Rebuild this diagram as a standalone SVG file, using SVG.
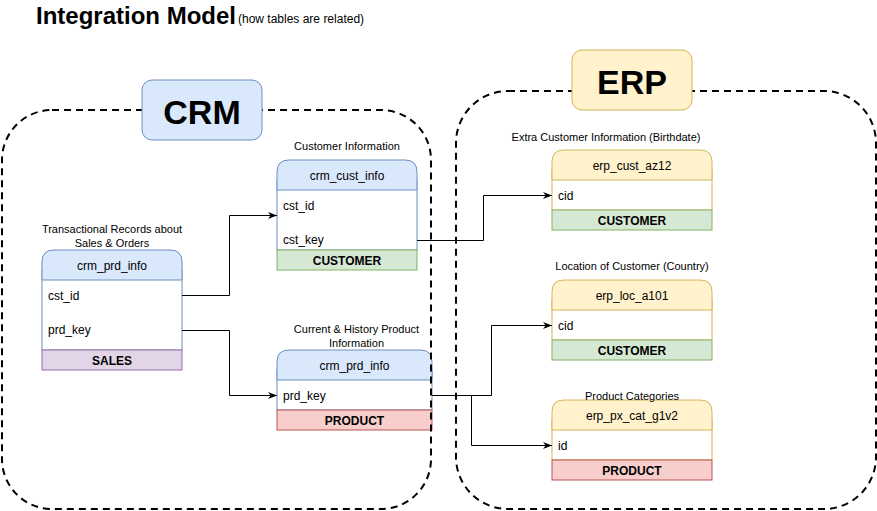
<svg xmlns="http://www.w3.org/2000/svg" width="877" height="511" viewBox="0 0 877 511">
<style>
text{font-family:"Liberation Sans",Arial,sans-serif;fill:#000}
.lbl{font-size:11px;text-anchor:middle}
.hd{font-size:12px;text-anchor:middle}
.fld{font-size:12px}
.ft{font-size:12px;font-weight:bold;text-anchor:middle}
.big{font-size:34px;font-weight:bold;text-anchor:middle}
.cont{fill:none;stroke:#000;stroke-width:2;stroke-dasharray:7 5}
.body{fill:#fff}
.crmH{fill:#dae8fc;stroke:#6c8ebf}
.crmB{fill:#fff;stroke:#6c8ebf}
.erpH{fill:#fff2cc;stroke:#d6b656}
.erpB{fill:#fff;stroke:#d6b656}
.cust{fill:#d5e8d4;stroke:#82b366}
.prod{fill:#f8cecc;stroke:#b85450}
.sales{fill:#e1d5e7;stroke:#9673a6}
.edge{fill:none;stroke:#000;stroke-width:1}
</style>
<defs>
<marker id="arr" viewBox="0 0 10 10" refX="10" refY="5" markerWidth="9" markerHeight="9" markerUnits="userSpaceOnUse" orient="auto">
<path d="M0,1 L10,5 L0,9 L3,5 z" fill="#000"/>
</marker>
</defs>
<rect width="877" height="511" fill="#fff"/>

<g id="title">
<text x="36" y="24" style="font-size:24px;font-weight:bold">Integration Model</text>
<text x="238" y="23" style="font-size:12px">(how tables are related)</text>
</g>

<g id="crm_sales">
<text class="lbl" x="112" y="233">Transactional Records about</text>
<text class="lbl" x="112" y="247">Sales &amp; Orders</text>
<rect class="crmB" x="42" y="270" width="140" height="80"/>
<path class="crmH" d="M42,280 V262 Q42,250 54,250 H170 Q182,250 182,262 V280 Z"/>
<text class="hd" x="112" y="270">crm_prd_info</text>
<text class="fld" x="48" y="300">cst_id</text>
<text class="fld" x="48" y="334">prd_key</text>
<rect class="sales" x="42" y="350" width="140" height="20"/>
<text class="ft" x="112" y="364.5">SALES</text>
</g>

<g id="crm_cust_info">
<text class="lbl" x="347" y="150">Customer Information</text>
<rect class="crmB" x="277" y="180" width="140" height="70"/>
<path class="crmH" d="M277,190 V172 Q277,160 289,160 H405 Q417,160 417,172 V190 Z"/>
<text class="hd" x="347" y="180">crm_cust_info</text>
<text class="fld" x="283" y="210">cst_id</text>
<text class="fld" x="283" y="244">cst_key</text>
<rect class="cust" x="277" y="250" width="140" height="20"/>
<text class="ft" x="347" y="264.5">CUSTOMER</text>
</g>

<g id="crm_prd_info">
<text class="lbl" x="356.5" y="333">Current &amp; History Product</text>
<text class="lbl" x="356.5" y="347">Information</text>
<rect class="crmB" x="277" y="370" width="155" height="40"/>
<path class="crmH" d="M277,380 V362 Q277,350 289,350 H420 Q432,350 432,362 V380 Z"/>
<text class="hd" x="354.5" y="370">crm_prd_info</text>
<text class="fld" x="283" y="399.5">prd_key</text>
<rect class="prod" x="277" y="410" width="155" height="20"/>
<text class="ft" x="354.5" y="424.5">PRODUCT</text>
</g>

<g id="erp_cust_az12">
<text class="lbl" x="606" y="141">Extra Customer Information (Birthdate)</text>
<rect class="erpB" x="552" y="170" width="160" height="40"/>
<path class="erpH" d="M552,180 V162 Q552,150 564,150 H700 Q712,150 712,162 V180 Z"/>
<text class="hd" x="632" y="170">erp_cust_az12</text>
<text class="fld" x="558" y="199.5">cid</text>
<rect class="cust" x="552" y="210" width="160" height="20"/>
<text class="ft" x="632" y="224.5">CUSTOMER</text>
</g>

<g id="erp_loc_a101">
<text class="lbl" x="632" y="270">Location of Customer (Country)</text>
<rect class="erpB" x="552" y="300" width="160" height="40"/>
<path class="erpH" d="M552,310 V292 Q552,280 564,280 H700 Q712,280 712,292 V310 Z"/>
<text class="hd" x="632" y="300">erp_loc_a101</text>
<text class="fld" x="558" y="330">cid</text>
<rect class="cust" x="552" y="340" width="160" height="20"/>
<text class="ft" x="632" y="354.5">CUSTOMER</text>
</g>

<g id="erp_px_cat_g1v2">
<rect class="erpB" x="552" y="420" width="160" height="40"/>
<path class="erpH" d="M552,430 V412 Q552,400 564,400 H700 Q712,400 712,412 V430 Z"/>
<text class="lbl" x="632" y="400">Product Categories</text>
<text class="hd" x="632" y="420">erp_px_cat_g1v2</text>
<text class="fld" x="558" y="449.5">id</text>
<rect class="prod" x="552" y="460" width="160" height="20"/>
<text class="ft" x="632" y="474.5">PRODUCT</text>
</g>

<g id="containers">
<rect id="crm_container" class="cont" x="2" y="110" width="429" height="399" rx="50" ry="50"/>
<rect id="erp_container" class="cont" x="456" y="91" width="420" height="418" rx="52" ry="52"/>
</g>

<g id="crm_label">
<rect x="142" y="80" width="120" height="60" rx="10" ry="10" fill="#dae8fc" stroke="#6c8ebf"/>
<text class="big" x="202" y="124">CRM</text>
</g>
<g id="erp_label">
<rect x="572" y="50" width="120" height="60" rx="10" ry="10" fill="#fff2cc" stroke="#d6b656"/>
<text class="big" x="632" y="94">ERP</text>
</g>

<g id="connectors">
<path class="edge" d="M182,295.5 H229.5 V215.5 H277" marker-end="url(#arr)"/>
<path class="edge" d="M182,330.5 H229.5 V395.5 H277" marker-end="url(#arr)"/>
<path class="edge" d="M417,240.5 H483.5 V195.5 H552" marker-end="url(#arr)"/>
<path class="edge" d="M432,395.5 H491.5 V325.5 H552" marker-end="url(#arr)"/>
<path class="edge" d="M471.5,395.5 V445.5 H552" marker-end="url(#arr)"/>
</g>
</svg>
